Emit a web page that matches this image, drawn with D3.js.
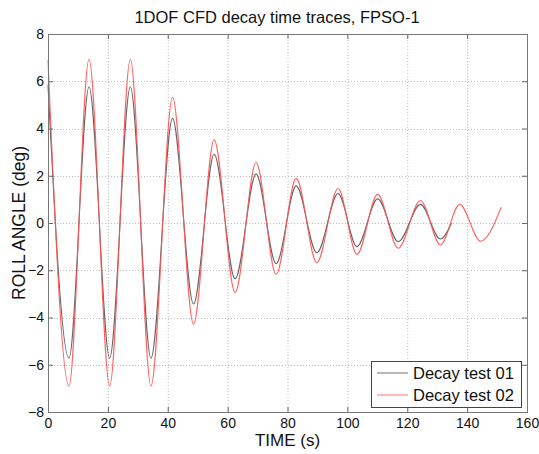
<!DOCTYPE html>
<html>
<head>
<meta charset="utf-8">
<title>1DOF CFD decay time traces</title>
<script src="https://d3js.org/d3.v7.min.js"></script>
<style>
  body { margin: 0; background: #fff; }
  text { font-family: "Liberation Sans", Arial, sans-serif; fill: #111; }
</style>
</head>
<body>
<script>
// turning points (time s, roll deg)
const timeTest01 = [0, 7.0, 13.7, 20.6, 27.5, 34.4, 41.6, 48.6, 55.5, 62.5, 69.5, 76.2, 82.9, 89.8, 96.9, 103.2, 110.1, 117.0, 124.4, 131.1, 134.8];
const rollTest01 = [5.85, -5.72, 5.77, -5.72, 5.77, -5.72, 4.43, -3.43, 2.91, -2.36, 2.07, -1.72, 1.57, -1.26, 1.25, -1.0, 1.02, -0.79, 0.79, -0.68, 0.0];
const timeTest02 = [0, 7.0, 13.7, 20.6, 27.5, 34.4, 41.6, 48.6, 55.5, 62.5, 69.5, 76.2, 82.9, 89.8, 96.9, 103.2, 110.1, 117.0, 124.4, 131.1, 137.5, 144.5, 151.4];
const rollTest02 = [6.9, -6.9, 6.93, -6.9, 6.92, -6.9, 5.32, -4.28, 3.52, -2.94, 2.56, -2.17, 1.89, -1.68, 1.46, -1.33, 1.21, -1.07, 0.95, -0.93, 0.79, -0.77, 0.67];
const seriesNames = ["Decay test 01", "Decay test 02"];
const xTicks = [0, 20, 40, 60, 80, 100, 120, 140, 160];
const yTicks = [-8, -6, -4, -2, 0, 2, 4, 6, 8];

var W = 539, H = 454;
var m = {top: 34, right: 12, bottom: 42, left: 48};
var width = W - m.left - m.right;
var height = H - m.top - m.bottom;

var svg = d3.select("body").append("svg")
    .attr("width", W).attr("height", H);

var g = svg.append("g")
    .attr("transform", "translate(" + m.left + "," + m.top + ")");

var x = d3.scaleLinear().domain([0, 160]).range([0, width]);
var y = d3.scaleLinear().domain([-8, 8]).range([height, 0]);

// dotted grid
g.append("g").selectAll("line")
    .data(xTicks.slice(1, -1)).join("line")
    .attr("x1", d => x(d) + 0.5).attr("x2", d => x(d) + 0.5)
    .attr("y1", 0).attr("y2", height)
    .attr("stroke", "#bdbdbd").attr("stroke-dasharray", "1,2");
g.append("g").selectAll("line")
    .data(yTicks.slice(1, -1)).join("line")
    .attr("y1", d => Math.round(y(d)) + 0.5).attr("y2", d => Math.round(y(d)) + 0.5)
    .attr("x1", 0).attr("x2", width)
    .attr("stroke", "#bdbdbd").attr("stroke-dasharray", "1,2");

// traces
var traces = [
    {t: timeTest01, v: rollTest01, color: "#555555"},
    {t: timeTest02, v: rollTest02, color: "#ff5252"}
];
var line = d3.line()
    .x(d => x(d[0])).y(d => y(d[1]))
    .curve(d3.curveMonotoneX);
traces.forEach(function(s) {
    g.append("path")
        .attr("d", line(d3.zip(s.t, s.v)))
        .attr("fill", "none")
        .attr("stroke", s.color)
        .attr("stroke-width", 1.1)
        .attr("opacity", 0.9);
});

// axes, ticks inward on every side
function styleAxis(sel) {
    sel.select(".domain").remove();
    sel.selectAll(".tick line").attr("stroke", "#666");
    sel.selectAll("text").style("font-size", "14px").attr("fill", "#111");
}
g.append("g").attr("transform", "translate(0," + height + ")")
    .call(d3.axisBottom(x).tickValues(xTicks).tickSize(-5).tickPadding(6))
    .call(styleAxis);
g.append("g")
    .call(d3.axisTop(x).tickValues(xTicks).tickSize(-5).tickFormat(""))
    .call(styleAxis);
g.append("g")
    .call(d3.axisLeft(y).tickValues(yTicks).tickSize(-5).tickPadding(4))
    .call(styleAxis);
g.append("g").attr("transform", "translate(" + width + ",0)")
    .call(d3.axisRight(y).tickValues(yTicks).tickSize(-5).tickFormat(""))
    .call(styleAxis);

g.append("rect")
    .attr("x", 0.5).attr("y", 0.5)
    .attr("width", width).attr("height", height)
    .attr("fill", "none").attr("stroke", "#777");

// titles
svg.append("text")
    .attr("x", 277).attr("y", 23)
    .attr("text-anchor", "middle")
    .style("font-size", "16.5px")
    .text("1DOF CFD decay time traces, FPSO-1");

svg.append("text")
    .attr("x", m.left + width / 2).attr("y", 446)
    .attr("text-anchor", "middle")
    .style("font-size", "17px")
    .text("TIME (s)");

svg.append("text")
    .attr("transform", "translate(25," + (m.top + height / 2) + ") rotate(-90)")
    .attr("text-anchor", "middle")
    .style("font-size", "17.5px")
    .text("ROLL ANGLE (deg)");

// legend
var lg = svg.append("g").attr("transform", "translate(371,361)");
lg.append("rect")
    .attr("x", 0.5).attr("y", 0.5)
    .attr("width", 150).attr("height", 46)
    .attr("fill", "#fff").attr("stroke", "#444");
seriesNames.forEach(function(name, i) {
    var yy = 12 + i * 22;
    lg.append("line")
        .attr("x1", 6).attr("x2", 37)
        .attr("y1", yy).attr("y2", yy)
        .attr("stroke", i === 0 ? "#8a8a8a" : "#ff8a8a")
        .attr("stroke-width", 1.2);
    lg.append("text")
        .attr("x", 42).attr("y", yy + 6)
        .style("font-size", "16.5px")
        .text(name);
});
</script>
</body>
</html>
